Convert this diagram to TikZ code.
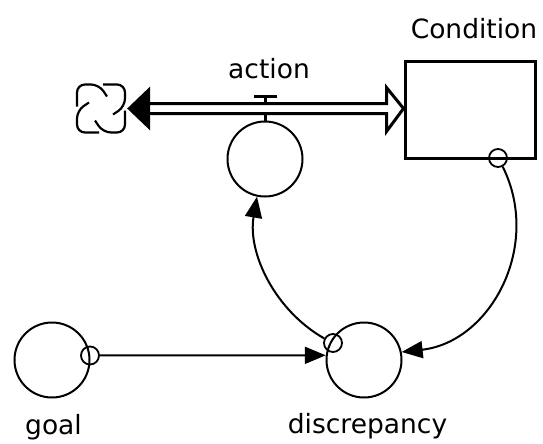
\documentclass[tikz,border=0pt]{standalone}
\usepackage{fontspec}
\setmainfont{DejaVu Sans}
\usetikzlibrary{arrows.meta,calc}
\begin{document}
\begin{tikzpicture}[x=1pt,y=1pt,
  lbl/.style={font=\fontsize{26.5}{30}\selectfont, anchor=base, inner sep=0pt},
  aux/.style={circle, draw, line width=2pt, minimum size=75pt, inner sep=0pt},
  port/.style={circle, draw, line width=1.8pt, minimum size=18pt, inner sep=0pt},
  conn/.style={line width=2pt, -{Triangle[length=21pt,width=17pt]}},
  pipeline/.style={line width=3pt},
  cloudline/.style={line width=2.2pt, rounded corners=8pt},
]
\fill[white] (0,0) rectangle (543,-444);
\useasboundingbox (0,0) rectangle (543,-444);
% stock
\node[draw, line width=3pt, minimum width=130pt, minimum height=96pt, inner sep=0pt] (cond) at (470,-110) {};
\node[lbl] (condlbl) at (474,-38) {Condition};
% converters
\node[aux] (act) at (265,-159) {};
\node[lbl] (actlbl) at (269,-78) {action};
\node[aux] (goal) at (52,-360) {};
\node[lbl] (goallbl) at (53.5,-434) {goal};
\node[aux] (dis) at (364,-360) {};
\node[lbl] (dislbl) at (367.5,-433) {discrepancy};
% connector ports
\node[port] (csm) at (498,-158) {};
\node[port] (gsm) at (90,-355.5) {};
\node[port] (dsm) at (333,-343) {};
% cloud
\node[minimum size=48pt, inner sep=0pt] (cloud) at (101,-108.5) {};
\foreach \r in {0,90,180,270}
  \draw[cloudline, shift={(cloud.center)}, rotate=\r] (-24,2) -- (-24,24) -- (-2,24) -- (6,12);
% flow pipe
\coordinate (fl) at ([xshift=25pt]cloud.east);
\coordinate (fr) at ([xshift=-17pt]cond.west |- fl);
\fill ([xshift=2pt]cloud.east) -- ([yshift=22pt]fl) -- ([yshift=-22pt]fl) -- cycle;
\draw[pipeline] ([yshift=5pt]fl) -- ([yshift=5pt]fr) -- ([yshift=21pt]fr) -- (cond.west |- fl)
  -- ([yshift=-23pt]fr) -- ([yshift=-5pt]fr) -- ([yshift=-5pt]fl);
% valve
\draw[pipeline] (act.north) -- ++(0,7.5);
\draw[pipeline] ([yshift=5pt]act.north |- fl) -- ++(0,7.5);
\draw[pipeline] ([xshift=-11.5pt,yshift=12.5pt]act.north |- fl) -- ++(23,0);
% connectors
\draw[conn] (gsm) -- (dis.173);
\draw[conn] (dsm) to[bend left=35, looseness=0.93] (act.258);
\draw[conn] (csm) to[bend left=55, looseness=1.08] (dis.12);
\end{tikzpicture}
\end{document}
